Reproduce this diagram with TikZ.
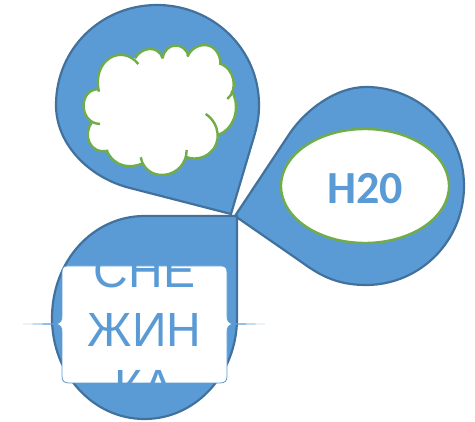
\documentclass[tikz,border=0pt]{standalone}
\usepackage{fontspec}
\setmainfont{Carlito}
\newfontfamily\snowfont{Liberation Sans}
\definecolor{dropfill}{HTML}{5B9BD5}
\definecolor{dropedge}{HTML}{41719C}
\definecolor{leaf}{HTML}{70AD47}
\tikzset{
  drop/.style={fill=dropfill,draw=dropedge,line width=2.2pt,line join=miter},
  ringshape/.style={fill=white,draw=leaf,line width=2.4pt},
  lobefill/.style={fill=white,draw=white,line width=1pt},
  lobeline/.style={draw=leaf,line width=2.4pt},
  snowtext/.style={font=\snowfont\fontsize{48}{48}\selectfont,text=dropfill,inner sep=0pt,anchor=base},
  water/.style={font=\bfseries\fontsize{46}{46}\selectfont,text=dropfill,inner sep=0pt}
}
\newcommand{\snowplate}{(67,266) -- (222,266) .. controls (226,266) and (227,269) .. (227,273)
  -- (227,316) .. controls (227,321) and (229,323) .. (232,324)
  .. controls (229,325) and (227,327) .. (227,332)
  -- (227,376) .. controls (227,381) and (225,383) .. (220,383)
  -- (69,383) .. controls (64,383) and (62,381) .. (62,376)
  -- (62,332) .. controls (62,327) and (60,325) .. (57,324)
  .. controls (60,323) and (62,321) .. (62,316)
  -- (62,273) .. controls (62,269) and (63,266) .. (67,266) -- cycle}
\begin{document}
\begin{tikzpicture}[x=1pt,y=-1pt]
\useasboundingbox (0,0) rectangle (475,422);
% teardrops
\draw[drop] (231,214) -- (253,140) .. controls (258,124) and (259,115) .. (259,105)
  .. controls (259,49) and (213,5) .. (157,5)
  .. controls (101,5) and (56,49) .. (56,105)
  .. controls (56,145) and (90,178) .. (130,188) -- cycle;
\draw[drop] (235,216) -- (290,133) .. controls (305,111) and (335,87) .. (366,87)
  .. controls (420,87) and (464,131) .. (464,186)
  .. controls (464,241) and (420,285) .. (366,285)
  .. controls (335,285) and (318,274) .. (300,261) -- cycle;
\draw[drop] (237,216) -- (237,318)
  .. controls (237,374) and (196,419) .. (144.500,419)
  .. controls (93,419) and (52,374) .. (52,318)
  .. controls (52,261) and (93,216) .. (144.500,216) -- cycle;
% cloud
\begin{scope}[shift={(50,0)},x=0.3333pt,y=-0.3333pt]
\path[lobefill] (147,275) -- (265,192) -- (255,175) -- (338,175) -- (415,168) -- (412,170) -- (512,195) -- (508,190) -- (532,297) -- (545,272) -- (503,405) -- (467,342) -- (408,470) -- (410,450) -- (272,472) -- (278,490) -- (170,452) -- (175,452) -- (125,368) -- (150,372) -- (147,268) -- cycle;
\path[lobefill] (147,275) .. controls (125,180) and (215,130) .. (265,192) -- cycle;
\path[lobefill] (255,175) .. controls (275,140) and (325,135) .. (338,175) -- cycle;
\path[lobefill] (338,175) .. controls (345,125) and (405,125) .. (415,168) -- cycle;
\path[lobefill] (412,170) .. controls (435,120) and (510,120) .. (512,195) -- cycle;
\path[lobefill] (508,190) .. controls (555,205) and (565,270) .. (532,297) -- cycle;
\path[lobefill] (545,272) .. controls (575,325) and (550,390) .. (503,405) -- cycle;
\path[lobefill] (467,342) .. controls (510,370) and (515,430) .. (480,458) .. controls (460,477) and (425,480) .. (408,470) -- cycle;
\path[lobefill] (410,450) .. controls (410,535) and (290,555) .. (272,472) -- cycle;
\path[lobefill] (278,490) .. controls (245,505) and (195,505) .. (170,452) -- cycle;
\path[lobefill] (175,452) .. controls (115,465) and (100,400) .. (125,368) -- cycle;
\path[lobefill] (150,372) .. controls (85,370) and (85,265) .. (147,268) -- cycle;
\draw[lobeline] (147,275) .. controls (125,180) and (215,130) .. (265,192);
\draw[lobeline] (255,175) .. controls (275,140) and (325,135) .. (338,175);
\draw[lobeline] (338,175) .. controls (345,125) and (405,125) .. (415,168);
\draw[lobeline] (412,170) .. controls (435,120) and (510,120) .. (512,195);
\draw[lobeline] (508,190) .. controls (555,205) and (565,270) .. (532,297);
\draw[lobeline] (545,272) .. controls (575,325) and (550,390) .. (503,405);
\draw[lobeline] (467,342) .. controls (510,370) and (515,430) .. (480,458) .. controls (460,477) and (425,480) .. (408,470);
\draw[lobeline] (410,450) .. controls (410,535) and (290,555) .. (272,472);
\draw[lobeline] (278,490) .. controls (245,505) and (195,505) .. (170,452);
\draw[lobeline] (175,452) .. controls (115,465) and (100,400) .. (125,368);
\draw[lobeline] (150,372) .. controls (85,370) and (85,265) .. (147,268);
\end{scope}
% H20 ellipse
\draw[ringshape] (365,186) ellipse [x radius=84,y radius=57];
\node[water] (h) at (365,188.500) {H20};
% snow plate
\fill[dropfill] (23,324) -- (62,323) -- (62,325) -- cycle;
\fill[dropfill] (265,324) -- (227,323) -- (227,325) -- cycle;
\fill[white] \snowplate;
\draw[dropfill,line width=0.8pt] \snowplate;
\begin{scope}
\clip (62,266) rectangle (227,383);
\node[snowtext] (s1) at (144.500,288) {СНЕ};
\node[snowtext] (s2) at (144.500,347) {ЖИН};
\node[snowtext] (s3) at (144.500,404) {КА};
\end{scope}
\end{tikzpicture}
\end{document}
